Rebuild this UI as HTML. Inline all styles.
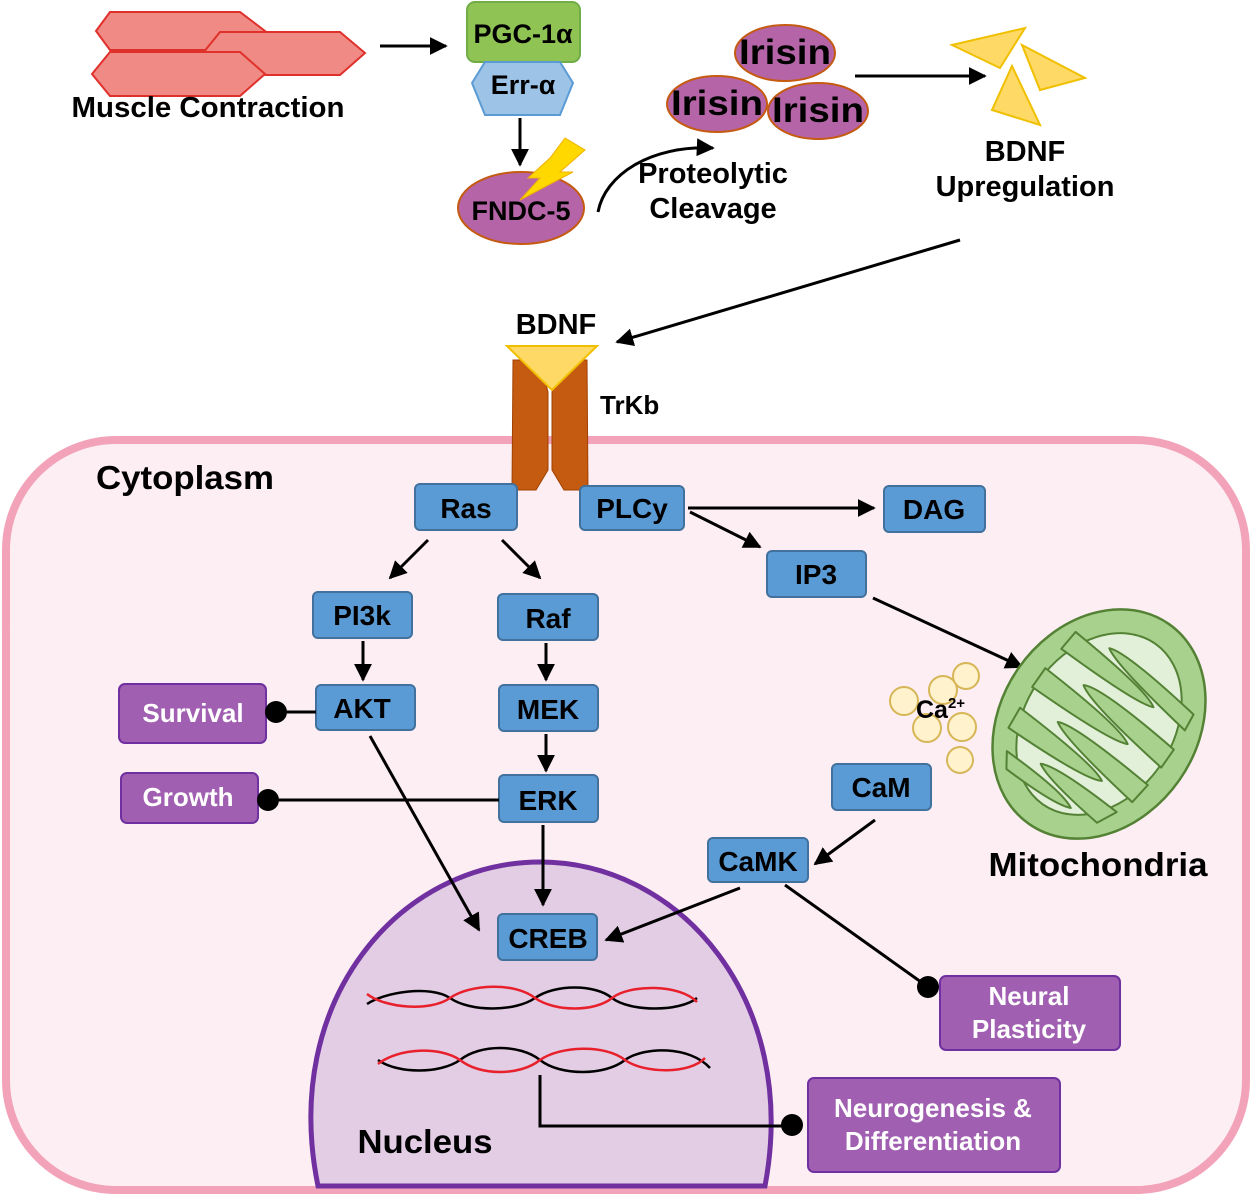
<!DOCTYPE html>
<html><head><meta charset="utf-8"><style>
html,body{margin:0;padding:0;background:#fff;}
svg{display:block;}
text{font-family:"Liberation Sans",Arial,sans-serif;font-weight:bold;}
</style></head><body>
<svg width="1255" height="1198" viewBox="0 0 1255 1198" xmlns="http://www.w3.org/2000/svg">
<defs>
<marker id="ah" viewBox="0 0 10 10" refX="9" refY="5" markerWidth="6" markerHeight="6" orient="auto"><path d="M0,0 L10,5 L0,10 z" fill="#000"/></marker>
</defs>
<rect x="6" y="440" width="1240" height="750" rx="110" fill="#fdeef3" stroke="#f2a3ba" stroke-width="8"/>
<path d="M318,1186 C280,1000 400,862 540,862 C680,862 800,1000 765,1186 Z" fill="#e2cde5" stroke="#7030a0" stroke-width="5"/>
<g fill="#f08a84" stroke="#e0302c" stroke-width="2">
<polygon points="96,31 110,12 240,12 265,31 240,50 110,50"/>
<polygon points="203,53 220,32 340,32 365,53 340,75 220,75"/>
<polygon points="92,74 110,52 240,52 265,74 240,96 110,96"/>
</g>
<text x="208" y="117" font-size="29" text-anchor="middle" textLength="273" lengthAdjust="spacingAndGlyphs">Muscle Contraction</text>
<line x1="380" y1="46" x2="446" y2="46" stroke="#000" stroke-width="3" marker-end="url(#ah)"/>
<rect x="467" y="2" width="113" height="60" rx="8" fill="#8fc353" stroke="#70ad47" stroke-width="2"/>
<text x="523" y="43" font-size="27" text-anchor="middle">PGC-1α</text>
<polygon points="472,83 485,62 560,62 573,83 560,115 485,115" fill="#9dc3e6" stroke="#5b9bd5" stroke-width="2"/>
<text x="523" y="94" font-size="27" text-anchor="middle">Err-α</text>
<line x1="520" y1="118" x2="520" y2="165" stroke="#000" stroke-width="3" marker-end="url(#ah)"/>
<ellipse cx="521" cy="208" rx="63" ry="36" fill="#b565a7" stroke="#c55a11" stroke-width="2"/>
<polygon points="565,138 585,150 560,172 573,172 520,200 540,178 528,178 550,158" fill="#ffd800" stroke="#f0b000" stroke-width="1"/>
<text x="521" y="220" font-size="27" text-anchor="middle">FNDC-5</text>
<path d="M598,212 C605,175 650,145 713,148" fill="none" stroke="#000" stroke-width="3" marker-end="url(#ah)"/>
<text x="713" y="183" font-size="29" text-anchor="middle">Proteolytic</text>
<text x="713" y="218" font-size="29" text-anchor="middle">Cleavage</text>
<g fill="#b565a7" stroke="#c55a11" stroke-width="2">
<ellipse cx="785" cy="53" rx="50" ry="28"/>
<ellipse cx="717" cy="104" rx="50" ry="28"/>
<ellipse cx="818" cy="111" rx="50" ry="28"/>
</g>
<text x="785" y="64" font-size="35" text-anchor="middle" textLength="92" lengthAdjust="spacingAndGlyphs">Irisin</text>
<text x="717" y="115" font-size="35" text-anchor="middle" textLength="92" lengthAdjust="spacingAndGlyphs">Irisin</text>
<text x="818" y="122" font-size="35" text-anchor="middle" textLength="92" lengthAdjust="spacingAndGlyphs">Irisin</text>
<line x1="855" y1="76" x2="985" y2="76" stroke="#000" stroke-width="3" marker-end="url(#ah)"/>
<g fill="#ffd966" stroke="#f0c000" stroke-width="2">
<polygon points="952,45 1025,28 1000,68"/>
<polygon points="1022,45 1085,78 1040,90"/>
<polygon points="1012,66 1040,125 992,110"/>
</g>
<text x="1025" y="161" font-size="29" text-anchor="middle">BDNF</text>
<text x="1025" y="196" font-size="29" text-anchor="middle">Upregulation</text>
<line x1="960" y1="240" x2="617" y2="342" stroke="#000" stroke-width="3" marker-end="url(#ah)"/>
<text x="556" y="334" font-size="29" text-anchor="middle">BDNF</text>
<polygon points="513,360 540,360 548,392 548,470 536,490 512,490" fill="#c55a11" stroke="#a04000" stroke-width="1"/>
<polygon points="587,360 560,360 552,392 552,470 564,490 588,490" fill="#c55a11" stroke="#a04000" stroke-width="1"/>
<polygon points="507,346 597,346 552,390" fill="#ffd966" stroke="#f0c000" stroke-width="2"/>
<text x="600" y="414" font-size="26">TrKb</text>
<text x="96" y="489" font-size="33" textLength="178" lengthAdjust="spacingAndGlyphs">Cytoplasm</text>
<g fill="#5b9bd5" stroke="#41719c" stroke-width="2">
<rect x="415" y="484" width="102" height="46" rx="5"/>
<rect x="580" y="486" width="104" height="44" rx="5"/>
<rect x="884" y="486" width="101" height="46" rx="5"/>
<rect x="767" y="551" width="99" height="46" rx="5"/>
<rect x="313" y="592" width="99" height="46" rx="5"/>
<rect x="498" y="594" width="100" height="46" rx="5"/>
<rect x="316" y="685" width="99" height="45" rx="5"/>
<rect x="499" y="685" width="99" height="46" rx="5"/>
<rect x="499" y="775" width="99" height="47" rx="5"/>
<rect x="832" y="764" width="99" height="46" rx="5"/>
<rect x="708" y="838" width="100" height="44" rx="5"/>
<rect x="498" y="914" width="99" height="46" rx="5"/>
</g>
<g font-size="28" text-anchor="middle">
<text x="466" y="518">Ras</text>
<text x="632" y="518">PLCy</text>
<text x="934" y="519">DAG</text>
<text x="816" y="584">IP3</text>
<text x="362" y="625">PI3k</text>
<text x="548" y="628">Raf</text>
<text x="362" y="718">AKT</text>
<text x="548" y="719">MEK</text>
<text x="548" y="810">ERK</text>
<text x="881" y="797">CaM</text>
<text x="758" y="871">CaMK</text>
<text x="548" y="948">CREB</text>
</g>
<g fill="#a05fb0" stroke="#7030a0" stroke-width="2">
<rect x="119" y="684" width="147" height="59" rx="6"/>
<rect x="121" y="773" width="137" height="50" rx="6"/>
<rect x="940" y="976" width="180" height="74" rx="6"/>
<rect x="808" y="1078" width="252" height="94" rx="6"/>
</g>
<g font-size="26" fill="#fff" text-anchor="middle">
<text x="193" y="722">Survival</text>
<text x="188" y="806">Growth</text>
<text x="1029" y="1005">Neural</text>
<text x="1029" y="1038">Plasticity</text>
<text x="933" y="1117">Neurogenesis &amp;</text>
<text x="933" y="1150">Differentiation</text>
</g>
<g stroke="#000" stroke-width="3" fill="none" marker-end="url(#ah)">
<line x1="428" y1="540" x2="390" y2="578"/>
<line x1="502" y1="540" x2="540" y2="578"/>
<line x1="363" y1="641" x2="363" y2="680"/>
<line x1="546" y1="643" x2="546" y2="680"/>
<line x1="546" y1="734" x2="546" y2="771"/>
<line x1="543" y1="825" x2="543" y2="905"/>
<line x1="370" y1="736" x2="479" y2="930"/>
<line x1="688" y1="508" x2="874" y2="508"/>
<line x1="690" y1="512" x2="760" y2="547"/>
<line x1="873" y1="598" x2="1022" y2="667"/>
<line x1="875" y1="820" x2="815" y2="864"/>
<line x1="740" y1="888" x2="606" y2="940"/>
</g>
<g stroke="#000" stroke-width="3" fill="none">
<line x1="316" y1="712" x2="276" y2="712"/>
<line x1="499" y1="800" x2="268" y2="800"/>
<line x1="785" y1="885" x2="928" y2="987"/>
<polyline points="540,1075 540,1126 792,1126"/>
</g>
<g fill="#000">
<circle cx="276" cy="712" r="11"/>
<circle cx="268" cy="800" r="11"/>
<circle cx="928" cy="987" r="11"/>
<circle cx="792" cy="1125" r="11"/>
</g>
<g fill="none" stroke-width="2.5">
<path d="M367,1004 C385,992 430,985 450,998 M450,998 C470,1012 515,1012 535,998 M535,998 C555,984 595,984 612,998 M612,998 C630,1012 680,1012 697,998" stroke="#000"/>
<path d="M367,994 C385,1008 430,1012 450,998 M450,998 C470,984 515,982 535,998 M535,998 C555,1012 595,1012 612,998 M612,998 C630,984 680,984 697,1002" stroke="#e8202c"/>
<path d="M378,1060 C398,1074 440,1074 460,1060 M460,1060 C480,1044 520,1044 540,1060 M540,1060 C560,1076 605,1076 625,1060 M625,1060 C645,1046 690,1046 710,1068" stroke="#000"/>
<path d="M378,1064 C398,1048 440,1046 460,1060 M460,1060 C480,1076 520,1076 540,1060 M540,1060 C560,1046 605,1044 625,1060 M625,1060 C645,1074 690,1074 705,1058" stroke="#e8202c"/>
</g>
<text x="425" y="1153" font-size="33" text-anchor="middle" textLength="135" lengthAdjust="spacingAndGlyphs">Nucleus</text>
<g transform="translate(1099,724) rotate(35)">
<ellipse cx="0" cy="0" rx="98" ry="122" fill="#a9d18e" stroke="#548235" stroke-width="2.5"/>
<ellipse cx="0" cy="0" rx="74" ry="98" fill="#e2f0d9" stroke="#548235" stroke-width="2"/>
<g fill="#a9d18e" stroke="#548235" stroke-width="2" stroke-linejoin="round">
<path d="M-72,-62 Q20,-55 35,-45 Q20,-38 -74,-40 Z"/>
<path d="M-76,-15 Q20,-10 35,0 Q20,8 -76,8 Z"/>
<path d="M-74,32 Q20,36 35,45 Q20,54 -72,55 Z"/>
<path d="M-60,75 Q10,76 25,85 Q10,92 -50,90 Z"/>
<path d="M72,-62 Q-20,-75 -35,-68 Q-20,-58 74,-44 Z"/>
<path d="M76,-22 Q-20,-32 -35,-23 Q-20,-12 76,0 Z"/>
<path d="M75,22 Q-20,14 -35,22 Q-20,32 72,45 Z"/>
<path d="M65,62 Q-10,58 -25,66 Q-10,75 55,82 Z"/>
</g>
</g>
<text x="1098" y="876" font-size="33" text-anchor="middle" textLength="219" lengthAdjust="spacingAndGlyphs">Mitochondria</text>
<g fill="#fff2cc" stroke="#d6b656" stroke-width="2">
<circle cx="904" cy="701" r="14"/>
<circle cx="943" cy="690" r="14"/>
<circle cx="966" cy="676" r="13"/>
<circle cx="927" cy="728" r="14"/>
<circle cx="962" cy="727" r="14"/>
<circle cx="960" cy="760" r="13"/>
</g>
<text x="916" y="718" font-size="25">Ca<tspan font-size="15" dy="-10">2+</tspan></text>
</svg>
</body></html>
